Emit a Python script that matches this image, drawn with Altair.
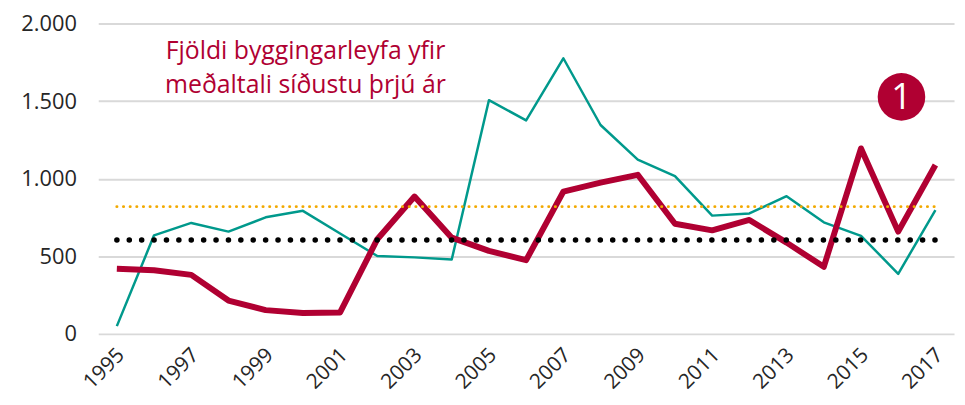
import altair as alt
import pandas as pd

# ---- data ----
years = list(range(1995, 2018))
permits = [420, 410, 380, 215, 153, 134, 138, 610, 885, 620, 535, 475, 917,
           975, 1025, 710, 667, 734, 588, 432, 1195, 659, 1088]
other = [50, 635, 715, 659, 751, 793, 647, 502, 493, 479, 1506, 1376, 1776,
         1346, 1123, 1017, 762, 776, 887, 719, 632, 387, 798]
avg_other = [820]
avg_permits = [605]
tick_years = list(range(1995, 2018, 2))
y_ticks = [0, 500, 1000, 1500, 2000]
annotation_lines = ["Fjöldi byggingarleyfa yfir", "meðaltali síðustu þrjú ár"]
badge_label = ["1"]

CRIMSON = "#B00032"
TEAL = "#00998C"
ORANGE = "#F2A900"
FONT = "Open Sans"

df = pd.DataFrame({"year": years, "permits": permits, "other": other})
avg_o = pd.DataFrame({"start": [years[0]], "end": [years[-1]], "value": avg_other})
avg_p = pd.DataFrame({"start": [years[0]], "end": [years[-1]], "value": avg_permits})
ann_df = pd.DataFrame({"t": [0]})
badge_df = pd.DataFrame({"label": badge_label})

xscale = alt.Scale(type="point", padding=0.5)
xaxis = alt.Axis(values=tick_years, labelAngle=-45, title=None, labelAlign="right",
                 labelBaseline="middle", labelPadding=18, labelOffset=4,
                 labelFontSize=21, grid=False, domain=False, ticks=False)
yscale = alt.Scale(domain=[0, 2000], nice=False)
yaxis = alt.Axis(values=y_ticks, title=None, labelFontSize=22, labelPadding=22,
                 labelExpr="replace(format(datum.value, ','), ',', '.')",
                 grid=True, gridColor="#D9D9D9", gridWidth=2,
                 domain=False, ticks=False)

base = alt.Chart(df)

teal_line = base.mark_line(color=TEAL, strokeWidth=2.5, strokeJoin="round").encode(
    x=alt.X("year:O", scale=xscale, axis=xaxis),
    y=alt.Y("other:Q", scale=yscale, axis=yaxis),
)
red_line = base.mark_line(color=CRIMSON, strokeWidth=6, strokeJoin="round").encode(
    x=alt.X("year:O"),
    y=alt.Y("permits:Q"),
)
orange_rule = alt.Chart(avg_o).mark_rule(
    color=ORANGE, strokeWidth=3, strokeDash=[0.1, 6.6], strokeCap="round"
).encode(x="start:O", x2="end:O", y="value:Q")
black_rule = alt.Chart(avg_p).mark_rule(
    color="black", strokeWidth=5.5, strokeDash=[0.1, 12.4], strokeCap="round"
).encode(x="start:O", x2="end:O", y="value:Q")

annotation = alt.Chart(ann_df).mark_text(
    text=annotation_lines, color=CRIMSON, font=FONT, fontSize=25,
    align="center", baseline="alphabetic", lineHeight=34,
).encode(x=alt.value(209), y=alt.value(36))

badge = alt.Chart(badge_df).mark_circle(color=CRIMSON, opacity=1, size=2300).encode(
    x=alt.value(810), y=alt.value(74))
badge_text = alt.Chart(badge_df).mark_text(
    color="white", font=FONT, fontSize=36, align="center", baseline="middle", dy=1
).encode(x=alt.value(810), y=alt.value(74), text="label:N")

chart = alt.layer(
    teal_line, red_line, orange_rule, black_rule, annotation, badge, badge_text
).properties(
    width=863, height=313,
    autosize=alt.AutoSizeParams(type="none"),
    padding={"left": 91, "top": 14, "right": 3, "bottom": 60},
).configure_view(stroke=None).configure_axis(
    labelFont=FONT, labelColor="#262626"
)

chart.save("out.html", embed_options={"renderer": "svg", "actions": False})
